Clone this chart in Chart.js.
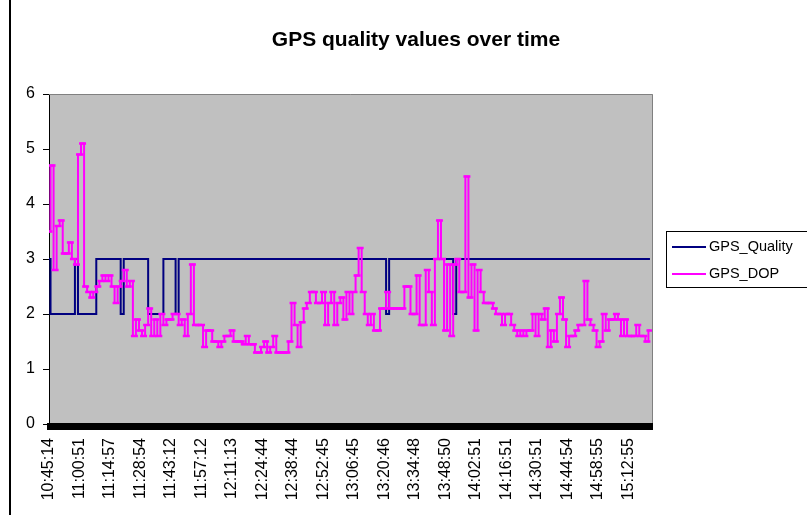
<!DOCTYPE html>
<html>
<head>
<meta charset="utf-8">
<script src="https://cdn.jsdelivr.net/npm/chart.js@4"></script>
<style>
html,body{margin:0;padding:0;background:#fff;overflow:hidden;}
#c{display:block;}
</style>
</head>
<body>
<canvas id="c" width="807" height="515" style="width:807px;height:515px"></canvas>
<script>
const timeLabels = ['10:45:14','11:00:51','11:14:57','11:28:54','11:43:12','11:57:12','12:11:13','12:24:44','12:38:44','12:52:45','13:06:45','13:20:46','13:34:48','13:48:50','14:02:51','14:16:51','14:30:51','14:44:54','14:58:55','15:12:55'];
const pointsPerLabel = 10;

const gpsQuality = [
  3,2,2,2,2,2,2,2,2,3,
  2,2,2,2,2,2,3,3,3,3,
  3,3,3,3,2,3,3,3,3,3,
  3,3,3,2,2,2,2,2,3,3,
  3,3,2,3,3,3,3,3,3,3,
  3,3,3,3,3,3,3,3,3,3,
  3,3,3,3,3,3,3,3,3,3,
  3,3,3,3,3,3,3,3,3,3,
  3,3,3,3,3,3,3,3,3,3,
  3,3,3,3,3,3,3,3,3,3,
  3,3,3,3,3,3,3,3,3,3,
  3,2,3,3,3,3,3,3,3,3,
  3,3,3,3,3,3,3,3,3,3,
  3,3,3,2,3,3,3,3,3,3,
  3,3,3,3,3,3,3,3,3,3,
  3,3,3,3,3,3,3,3,3,3,
  3,3,3,3,3,3,3,3,3,3,
  3,3,3,3,3,3,3,3,3,3,
  3,3,3,3,3,3,3,3,3,3,
  3,3,3,3,3,3,3,3
];

const gpsDop = [
  3.5,4.7,2.8,3.6,3.7,3.1,3.1,3.3,3.0,2.9,
  4.9,5.1,2.5,2.4,2.3,2.4,2.5,2.6,2.7,2.6,
  2.7,2.5,2.2,2.5,2.6,2.8,2.5,2.6,1.6,1.9,
  1.7,1.6,1.8,2.1,1.6,1.9,1.6,2.0,1.8,1.9,
  1.9,2.0,2.0,1.8,1.9,1.6,2.0,2.9,1.8,1.8,
  1.8,1.4,1.7,1.7,1.5,1.5,1.4,1.5,1.6,1.6,
  1.7,1.5,1.5,1.5,1.45,1.6,1.45,1.45,1.3,1.3,
  1.4,1.5,1.3,1.4,1.6,1.3,1.3,1.3,1.3,1.5,
  2.2,1.8,1.4,1.85,2.1,2.2,2.4,2.4,2.2,2.2,
  2.4,1.8,2.2,2.4,1.8,2.2,2.3,1.9,2.4,2.0,
  2.4,2.7,3.2,2.4,2.0,1.8,2.0,1.7,1.7,2.1,
  2.1,2.4,2.1,2.1,2.1,2.1,2.1,2.5,2.5,2.0,
  2.0,2.7,1.8,1.8,2.8,2.4,1.8,3.0,3.7,3.0,
  1.7,2.9,1.6,2.9,3.0,2.4,2.4,4.5,2.3,2.9,
  1.7,2.8,2.4,2.2,2.2,2.2,2.1,2.0,2.0,1.8,
  2.0,2.0,1.8,1.7,1.6,1.7,1.6,1.7,1.7,2.0,
  1.6,2.0,1.9,2.1,1.4,1.7,1.5,2.0,2.3,1.9,
  1.4,1.6,1.6,1.7,1.8,1.8,2.6,1.9,1.8,1.7,
  1.4,1.5,2.0,1.7,1.9,1.9,2.0,1.9,1.6,1.9,
  1.6,1.6,1.6,1.8,1.6,1.6,1.5,1.7
];

const FONT = "'Liberation Sans', Arial, sans-serif";
const xMax = gpsDop.length;

const decor = {
  id: 'decor',
  beforeDraw(chart) {
    const {ctx, chartArea: a} = chart;
    ctx.save();
    ctx.fillStyle = '#ffffff';
    ctx.fillRect(0, 0, chart.width, chart.height);
    ctx.fillStyle = '#000000';
    ctx.fillRect(9, 0, 2, chart.height);
    ctx.fillStyle = '#C0C0C0';
    ctx.fillRect(a.left, a.top, a.right - a.left, a.bottom - a.top);
    ctx.fillStyle = '#000000';
    ctx.font = 'bold 21px ' + FONT;
    ctx.textAlign = 'center';
    ctx.textBaseline = 'middle';
    ctx.fillText('GPS quality values over time', 416, 40);
    ctx.restore();
  },
  afterDraw(chart) {
    const {ctx, chartArea: a} = chart;
    ctx.save();
    ctx.strokeStyle = '#808080';
    ctx.lineWidth = 1;
    ctx.beginPath();
    ctx.moveTo(a.left, a.top + 0.5);
    ctx.lineTo(a.right - 0.5, a.top + 0.5);
    ctx.lineTo(a.right - 0.5, a.bottom);
    ctx.stroke();
    ctx.fillStyle = '#000000';
    ctx.fillRect(a.left - 2, a.bottom - 1, a.right - a.left + 2, 7);
    ctx.strokeStyle = '#000000';
    ctx.lineWidth = 1;
    ctx.strokeRect(666.5, 231.5, 200, 56);
    ctx.lineWidth = 2;
    ctx.strokeStyle = '#000080';
    ctx.beginPath(); ctx.moveTo(672, 247); ctx.lineTo(706, 247); ctx.stroke();
    ctx.strokeStyle = '#FF00FF';
    ctx.beginPath(); ctx.moveTo(672, 274); ctx.lineTo(706, 274); ctx.stroke();
    ctx.fillStyle = '#000000';
    ctx.font = '14.5px ' + FONT;
    ctx.textAlign = 'left';
    ctx.textBaseline = 'middle';
    ctx.fillText('GPS_Quality', 709, 247);
    ctx.fillText('GPS_DOP', 709, 274);
    ctx.restore();
  }
};

new Chart(document.getElementById('c'), {
  type: 'line',
  data: {
    datasets: [
      {
        label: 'GPS_Quality',
        data: gpsQuality.map((v, i) => ({x: i, y: v})),
        borderColor: '#000080',
        backgroundColor: '#000080',
        borderWidth: 2,
        pointRadius: 0,
        stepped: 'middle',
        order: 2
      },
      {
        label: 'GPS_DOP',
        data: gpsDop.map((v, i) => ({x: i, y: v})),
        borderColor: '#FF00FF',
        backgroundColor: '#FF00FF',
        borderWidth: 2,
        pointStyle: 'line',
        pointRadius: 3.5,
        pointBorderWidth: 2.5,
        pointBorderColor: '#FF00FF',
        stepped: 'middle',
        order: 1
      }
    ]
  },
  options: {
    responsive: false,
    devicePixelRatio: 1,
    animation: false,
    events: [],
    layout: {padding: {left: 10, top: 94, right: 154, bottom: 0}},
    plugins: {legend: {display: false}, title: {display: false}, tooltip: {enabled: false}},
    scales: {
      x: {
        type: 'linear',
        min: 0,
        max: xMax,
        afterFit(s) { s.height = 91; },
        grid: {display: false, drawTicks: false},
        border: {display: false},
        ticks: {
          stepSize: pointsPerLabel,
          autoSkip: false,
          maxRotation: 90,
          minRotation: 90,
          padding: 14,
          color: '#000000',
          font: {family: FONT, size: 16},
          callback(v) {
            if (v % pointsPerLabel !== 0) return '';
            return timeLabels[v / pointsPerLabel] || '';
          }
        }
      },
      y: {
        min: 0,
        max: 6,
        afterFit(s) { s.width = 39; },
        grid: {drawOnChartArea: false, drawTicks: true, tickLength: 6, color: '#000000'},
        border: {display: true, color: '#000000', width: 1},
        ticks: {
          stepSize: 1,
          padding: 8,
          color: '#000000',
          font: {family: FONT, size: 16}
        }
      }
    }
  },
  plugins: [decor]
});
</script>
</body>
</html>
